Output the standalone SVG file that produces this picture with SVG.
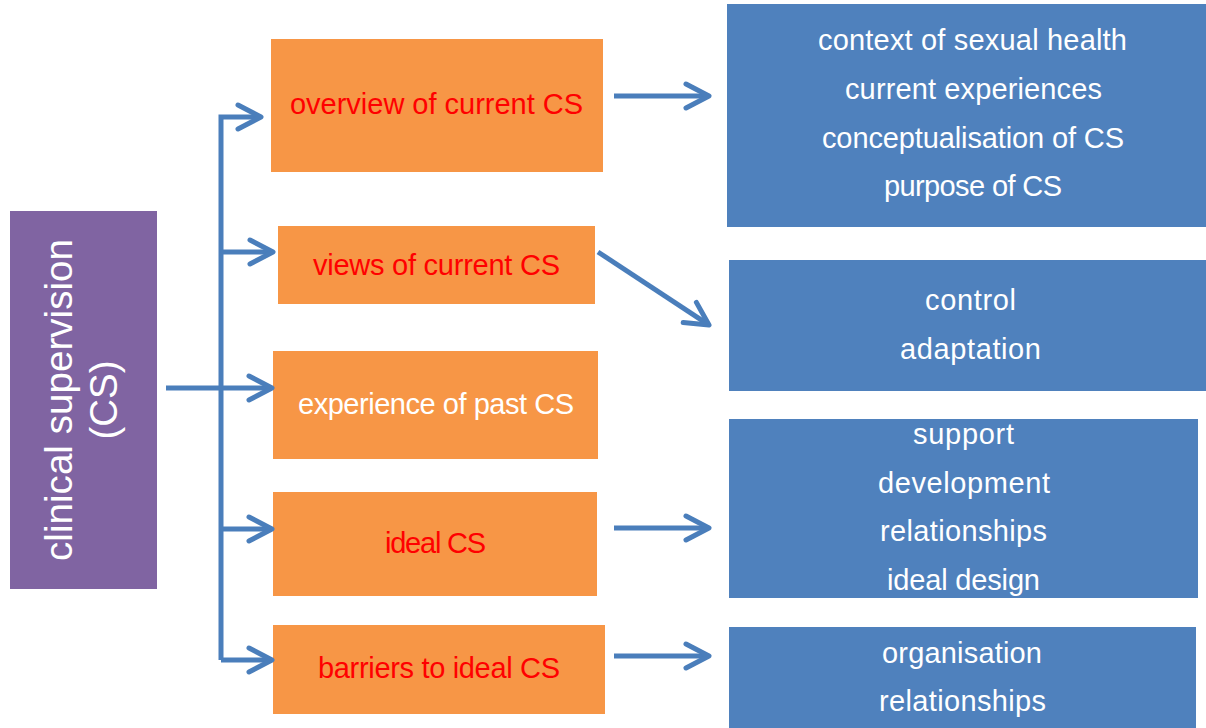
<svg xmlns="http://www.w3.org/2000/svg" width="1206" height="728" viewBox="0 0 1206 728">
<style>
.t{font-family:"Liberation Sans",Arial,sans-serif;font-size:29px;text-anchor:middle}
.red{fill:#FF0000}
.wh{fill:#FFFFFF}
.org{fill:#F79646}
.blu{fill:#4F81BD}
.pur{fill:#8064A2}
.big{font-family:"Liberation Sans",Arial,sans-serif;font-size:38.5px;text-anchor:middle;fill:#FFFFFF}
.c{fill:none;stroke:#4A7EBB;stroke-width:5;marker-end:url(#ah)}
</style>
<defs>
<marker id="ah" markerUnits="userSpaceOnUse" markerWidth="40" markerHeight="40" viewBox="-30 -20 40 40" refX="0" refY="0" orient="auto" overflow="visible">
<path d="M-20,-12 L3,0 L-20,12" fill="none" stroke="#4A7EBB" stroke-width="5" stroke-linecap="round" stroke-linejoin="round"/>
</marker>
</defs>
<rect width="1206" height="728" fill="#FFFFFF"/>
<g id="root">
<rect class="pur" x="10" y="211" width="147" height="378"/>
<text class="big" transform="translate(72,400) rotate(-90)" textLength="322" lengthAdjust="spacing">clinical supervision</text>
<text class="big" transform="translate(117,400) rotate(-90)">(CS)</text>
</g>
<g id="overview">
<rect class="org" x="271" y="39" width="332" height="133"/>
<text class="t red" x="436.5" y="114" textLength="293" lengthAdjust="spacing">overview of current CS</text>
</g>
<g id="views">
<rect class="org" x="278" y="226" width="317" height="78"/>
<text class="t red" x="436.5" y="274.5" textLength="247" lengthAdjust="spacing">views of current CS</text>
</g>
<g id="experience">
<rect class="org" x="273" y="351" width="325" height="108"/>
<text class="t wh" x="436" y="413.5" textLength="276" lengthAdjust="spacing">experience of past CS</text>
</g>
<g id="ideal">
<rect class="org" x="273" y="492" width="324" height="104"/>
<text class="t red" x="435.5" y="552.5" textLength="101" lengthAdjust="spacing">ideal CS</text>
</g>
<g id="barriers">
<rect class="org" x="273" y="625" width="332" height="89"/>
<text class="t red" x="439" y="677.5" textLength="242" lengthAdjust="spacing">barriers to ideal CS</text>
</g>
<g id="current-themes">
<rect class="blu" x="727" y="4" width="479" height="223"/>
<text class="t wh" x="972.5" y="50" textLength="309" lengthAdjust="spacing">context of sexual health</text>
<text class="t wh" x="973.5" y="99" textLength="257" lengthAdjust="spacing">current experiences</text>
<text class="t wh" x="973" y="148" textLength="302" lengthAdjust="spacing">conceptualisation of CS</text>
<text class="t wh" x="973" y="195.5" textLength="178" lengthAdjust="spacing">purpose of CS</text>
</g>
<g id="views-themes">
<rect class="blu" x="729" y="260" width="477" height="131"/>
<text class="t wh" x="970.5" y="309.5" textLength="91" lengthAdjust="spacing">control</text>
<text class="t wh" x="970.5" y="358.5" textLength="141" lengthAdjust="spacing">adaptation</text>
</g>
<g id="ideal-themes">
<rect class="blu" x="729" y="419" width="469" height="179"/>
<text class="t wh" x="963.5" y="443.5" textLength="101" lengthAdjust="spacing">support</text>
<text class="t wh" x="964" y="492.5" textLength="172" lengthAdjust="spacing">development</text>
<text class="t wh" x="963.5" y="540.5" textLength="167" lengthAdjust="spacing">relationships</text>
<text class="t wh" x="963.5" y="589.5" textLength="153" lengthAdjust="spacing">ideal design</text>
</g>
<g id="barrier-themes">
<rect class="blu" x="729" y="627" width="467" height="101"/>
<text class="t wh" x="962" y="662.5" textLength="160" lengthAdjust="spacing">organisation</text>
<text class="t wh" x="962.5" y="710.5" textLength="167" lengthAdjust="spacing">relationships</text>
</g>
<g id="connectors">
<path class="c" d="M221,660 V117 H258"/>
<path class="c" d="M221,252 H270"/>
<path class="c" d="M166,388 H269"/>
<path class="c" d="M221,529 H269"/>
<path class="c" d="M221,660 H269"/>
<path class="c" d="M614,96 H706"/>
<path class="c" d="M598,252 L706.5,323.4"/>
<path class="c" d="M614,528 H706"/>
<path class="c" d="M614,656 H706"/>
</g>
</svg>
